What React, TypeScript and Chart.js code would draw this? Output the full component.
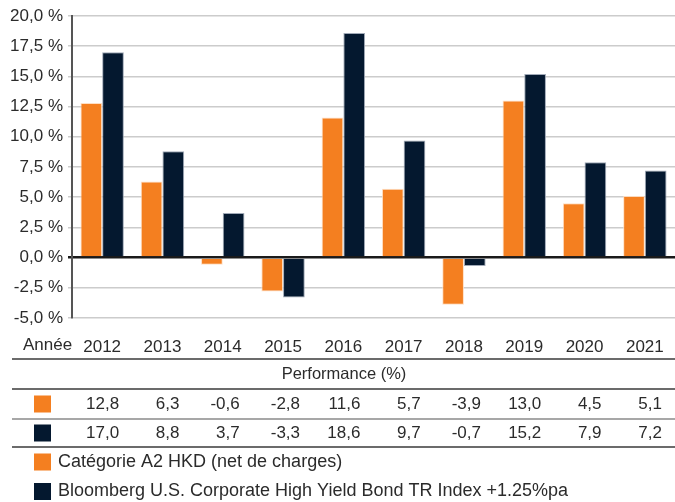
import React, { useEffect, useRef } from "react";
import { Chart, registerables } from "chart.js";
Chart.register(...registerables);

const years = ["2012", "2013", "2014", "2015", "2016", "2017", "2018", "2019", "2020", "2021"];
const seriesA = [12.8, 6.3, -0.6, -2.8, 11.6, 5.7, -3.9, 13.0, 4.5, 5.1];
const seriesB = [17.0, 8.8, 3.7, -3.3, 18.6, 9.7, -0.7, 15.2, 7.9, 7.2];
const labelA = "Catégorie A2 HKD (net de charges)";
const labelB = "Bloomberg U.S. Corporate High Yield Bond TR Index +1.25%pa";
const axisTitle = "Année";
const tableTitle = "Performance (%)";
const yMin = -5;
const yMax = 20;
const yStep = 2.5;

const ORANGE = "#F47F20";
const NAVY = "#04182F";
const TEXT = "#2b2b2b";
const FONT = "'Liberation Sans', Arial, Helvetica, sans-serif";

const fmt = (v: number) => v.toFixed(1).replace(".", ",");

export default function App() {
  const ref = useRef<HTMLCanvasElement | null>(null);
  useEffect(() => {
    const canvas = ref.current!;
    const tablePlugin = {
      id: "tablePlugin",
      afterDraw(chart: any) {
        const ctx = chart.ctx as CanvasRenderingContext2D;
        const xs = chart.scales.x;
        ctx.save();
        ctx.font = `17px ${FONT}`;
        ctx.fillStyle = TEXT;
        ctx.textBaseline = "middle";
        ctx.textAlign = "left";
        ctx.fillText(axisTitle, 23, 345);
        const line = (y: number, color: string, w: number) => {
          ctx.beginPath();
          ctx.strokeStyle = color;
          ctx.lineWidth = w;
          ctx.moveTo(12, y);
          ctx.lineTo(675, y);
          ctx.stroke();
        };
        line(359, "#3a3a3a", 1.5);
        line(389, "#3a3a3a", 1.5);
        line(419, "#8a8a8a", 1.5);
        line(447, "#3a3a3a", 1.5);
        ctx.textAlign = "center";
        ctx.font = `16.5px ${FONT}`;
        ctx.fillText(tableTitle, 344, 374);
        ctx.font = `17px ${FONT}`;
        const rows = [
          { data: seriesA, color: ORANGE, y: 404 },
          { data: seriesB, color: NAVY, y: 433 },
        ];
        rows.forEach((r) => {
          ctx.fillStyle = r.color;
          ctx.fillRect(34, r.y - 8.5, 17, 17);
          ctx.fillStyle = TEXT;
          ctx.textAlign = "right";
          r.data.forEach((v, i) => {
            const cx = xs.getPixelForValue(i);
            ctx.fillText(fmt(v), cx + 17, r.y);
          });
        });
        const legends = [
          { label: labelA, color: ORANGE, y: 462 },
          { label: labelB, color: NAVY, y: 491.5 },
        ];
        ctx.textAlign = "left";
        ctx.font = `18px ${FONT}`;
        legends.forEach((l) => {
          ctx.fillStyle = l.color;
          ctx.fillRect(34, l.y - 8.5, 17, 17);
          ctx.fillStyle = TEXT;
          ctx.fillText(l.label, 58, l.y);
        });
        ctx.restore();
      },
    };
    const chart = new Chart(canvas, {
      type: "bar",
      data: {
        labels: years,
        datasets: [
          {
            label: labelA,
            data: seriesA,
            backgroundColor: ORANGE,
            borderColor: "rgba(255,220,190,0.9)",
            borderWidth: 1,
            categoryPercentage: 0.72,
            barPercentage: 1,
          },
          {
            label: labelB,
            data: seriesB,
            backgroundColor: NAVY,
            borderColor: "rgba(150,160,175,0.9)",
            borderWidth: 1,
            categoryPercentage: 0.72,
            barPercentage: 1,
          },
        ],
      },
      options: {
        responsive: false,
        animation: false,
        devicePixelRatio: 1,
        layout: { padding: { top: 16, left: 0, right: 0, bottom: 0 } },
        plugins: { legend: { display: false }, tooltip: { enabled: false } },
        scales: {
          x: {
            grid: { display: false },
            border: { display: false },
            ticks: { color: TEXT, font: { family: FONT, size: 17 }, padding: 11, maxRotation: 0 },
            afterFit: (s: any) => {
              s.height = 184;
              s.paddingLeft = 0;
              s.paddingRight = 0;
            },
          },
          y: {
            min: yMin,
            max: yMax,
            ticks: {
              stepSize: yStep,
              color: TEXT,
              font: { family: FONT, size: 17 },
              padding: 5,
              callback: (v: any) => fmt(Number(v)) + " %",
            },
            grid: {
              color: (c: any) => (c.tick && c.tick.value === 0 ? "#1a1a1a" : "#cccccc"),
              lineWidth: (c: any) => (c.tick && c.tick.value === 0 ? 2.5 : 1.5),
              tickLength: 4,
            },
            border: { display: true, color: "#555555", width: 2 },
            afterFit: (s: any) => {
              s.width = 72;
            },
          },
        },
      },
      plugins: [tablePlugin],
    });
    return () => chart.destroy();
  }, []);
  return (
    <div>
      <style>{`body{margin:0}`}</style>
      <canvas ref={ref} width={675} height={502} style={{ display: "block" }} />
    </div>
  );
}
